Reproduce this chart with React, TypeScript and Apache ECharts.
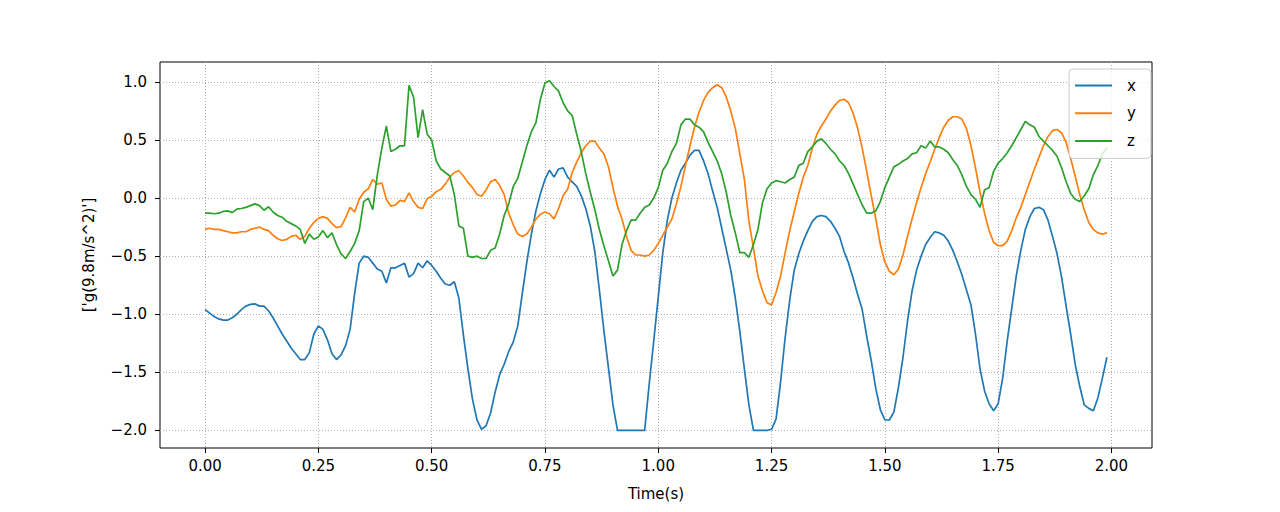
import React, { useEffect, useRef } from "react";
import * as echarts from "echarts";

// acceleration samples, one every 0.01 s, from 0.00 to 1.99 s
const X_VALUES = [
  -0.96, -0.99, -1.02, -1.04, -1.05, -1.05, -1.03, -1.0, -0.96, -0.93,
  -0.915, -0.91, -0.93, -0.93, -0.97, -1.03, -1.1, -1.17, -1.23, -1.29,
  -1.34, -1.39, -1.39, -1.33, -1.17, -1.1, -1.13, -1.22, -1.34, -1.39,
  -1.35, -1.27, -1.13, -0.82, -0.56, -0.5, -0.51, -0.56, -0.61, -0.63,
  -0.73, -0.6, -0.6, -0.58, -0.56, -0.68, -0.65, -0.56, -0.6, -0.54,
  -0.58, -0.63, -0.69, -0.74, -0.75, -0.72, -0.86, -1.18, -1.47, -1.73,
  -1.91, -1.99, -1.96, -1.85, -1.67, -1.52, -1.43, -1.32, -1.24, -1.1,
  -0.82, -0.55, -0.31, -0.11, 0.04, 0.16, 0.24, 0.18, 0.25, 0.26,
  0.18, 0.14, 0.1, 0.02, -0.09, -0.24, -0.46, -0.79, -1.14, -1.46,
  -1.78, -2.0, -2.0, -2.0, -2.0, -2.0, -2.0, -2.0, -1.6, -1.23,
  -0.85, -0.47, -0.19, 0.0, 0.13, 0.24, 0.3, 0.37, 0.41, 0.41,
  0.32, 0.21, 0.06, -0.08, -0.26, -0.44, -0.62, -0.86, -1.15, -1.47,
  -1.78, -2.0, -2.0, -2.0, -2.0, -1.99, -1.9, -1.58, -1.2, -0.88,
  -0.62, -0.48, -0.37, -0.28, -0.2, -0.16, -0.15, -0.16, -0.2, -0.26,
  -0.33, -0.46, -0.56, -0.69, -0.83, -0.96, -1.19, -1.4, -1.64, -1.82,
  -1.91, -1.91, -1.84, -1.63, -1.37, -1.06, -0.8, -0.62, -0.5, -0.4,
  -0.34, -0.29, -0.3, -0.32, -0.37, -0.45, -0.55, -0.66, -0.79, -0.92,
  -1.17, -1.47, -1.66, -1.77, -1.83, -1.77, -1.55, -1.23, -0.95, -0.67,
  -0.45, -0.27, -0.16, -0.09, -0.08, -0.1, -0.19, -0.33, -0.48, -0.68,
  -0.93, -1.17, -1.43, -1.62, -1.78, -1.81, -1.83, -1.72, -1.55, -1.37,
];

const Y_VALUES = [
  -0.27, -0.26, -0.27, -0.27, -0.28, -0.29, -0.3, -0.3, -0.29, -0.29,
  -0.27, -0.26, -0.25, -0.27, -0.28, -0.32, -0.35, -0.365, -0.355, -0.33,
  -0.32, -0.355, -0.33, -0.26, -0.21, -0.175, -0.16, -0.175, -0.22, -0.255,
  -0.245, -0.17, -0.08, -0.12, -0.01, 0.05, 0.08, 0.16, 0.12, 0.13,
  -0.01, -0.07, -0.06, -0.02, -0.03, 0.045, -0.03, -0.08, -0.09, -0.005,
  0.015, 0.055, 0.075, 0.12, 0.18, 0.22, 0.235, 0.19, 0.135, 0.09,
  0.03, 0.015, 0.07, 0.14, 0.16, 0.11, 0.03, -0.13, -0.23, -0.31,
  -0.33, -0.31, -0.25, -0.18, -0.14, -0.12, -0.135, -0.18, -0.09, 0.02,
  0.075, 0.22, 0.31, 0.39, 0.45, 0.49, 0.49, 0.43, 0.38, 0.27,
  0.09, -0.07, -0.18, -0.33, -0.45, -0.49, -0.49, -0.5, -0.49, -0.45,
  -0.39, -0.32, -0.25, -0.18, -0.05, 0.1, 0.28, 0.45, 0.61, 0.74,
  0.84, 0.91, 0.95, 0.975, 0.95, 0.87, 0.75, 0.6, 0.38, 0.16,
  -0.2, -0.43, -0.67, -0.8, -0.9, -0.92, -0.81, -0.67, -0.47, -0.28,
  -0.12, 0.04, 0.18, 0.28, 0.43, 0.55, 0.62, 0.68, 0.75, 0.8,
  0.84, 0.85, 0.82, 0.73, 0.6, 0.43, 0.23, 0.02, -0.18, -0.4,
  -0.55, -0.63, -0.66, -0.61, -0.49, -0.33, -0.18, -0.04, 0.09, 0.21,
  0.31, 0.42, 0.52, 0.61, 0.67, 0.7, 0.7, 0.68, 0.6, 0.45,
  0.26, 0.05, -0.13, -0.28, -0.38, -0.41, -0.41, -0.37, -0.28, -0.17,
  -0.08, 0.03, 0.14, 0.25, 0.35, 0.45, 0.53, 0.58, 0.59, 0.56,
  0.48, 0.34, 0.19, 0.03, -0.1, -0.21, -0.27, -0.3, -0.31, -0.3,
];

const Z_VALUES = [
  -0.13, -0.13, -0.135, -0.13, -0.115, -0.11, -0.125, -0.095, -0.09, -0.08,
  -0.065, -0.05, -0.065, -0.105, -0.075, -0.12, -0.15, -0.165, -0.2, -0.22,
  -0.24, -0.27, -0.39, -0.31, -0.355, -0.335, -0.28, -0.34, -0.3, -0.4,
  -0.48, -0.52, -0.46, -0.39, -0.28, -0.03, 0.0, -0.1, 0.2, 0.43,
  0.62, 0.4, 0.42, 0.45, 0.45, 0.97, 0.87, 0.52, 0.76, 0.55,
  0.5, 0.32, 0.25, 0.22, 0.19, 0.03, -0.24, -0.26, -0.5, -0.51,
  -0.5, -0.52, -0.52, -0.45, -0.43, -0.31, -0.15, -0.05, 0.1, 0.17,
  0.31, 0.45, 0.57, 0.65, 0.85, 0.99, 1.01, 0.96, 0.92, 0.82,
  0.75, 0.71, 0.55, 0.4, 0.21, 0.05, -0.1, -0.27, -0.41, -0.54,
  -0.67, -0.62, -0.4, -0.28, -0.19, -0.19, -0.13, -0.08, -0.06, 0.0,
  0.09, 0.24, 0.3, 0.4, 0.47, 0.63, 0.68, 0.68, 0.63, 0.61,
  0.57, 0.48, 0.4, 0.32, 0.21, 0.05, -0.15, -0.3, -0.47, -0.47,
  -0.51, -0.4, -0.27, -0.04, 0.08, 0.13, 0.15, 0.14, 0.13, 0.16,
  0.18, 0.28, 0.3, 0.4, 0.44, 0.49, 0.51, 0.47, 0.42, 0.38,
  0.32, 0.28, 0.21, 0.12, 0.03, -0.06, -0.13, -0.13, -0.11, -0.03,
  0.09, 0.18, 0.27, 0.29, 0.32, 0.34, 0.38, 0.39, 0.45, 0.43,
  0.49, 0.44, 0.44, 0.42, 0.39, 0.33, 0.28, 0.2, 0.1, 0.03,
  -0.01, -0.08, 0.07, 0.09, 0.23, 0.3, 0.34, 0.39, 0.45, 0.52,
  0.59, 0.66, 0.63, 0.61, 0.53, 0.49, 0.45, 0.41, 0.36, 0.26,
  0.14, 0.04, -0.01, -0.03, 0.02, 0.08, 0.2, 0.28, 0.38, 0.43,
];

const SERIES_NAMES = ["x", "y", "z"];
const X_TICKS = [0, 0.25, 0.5, 0.75, 1.0, 1.25, 1.5, 1.75, 2.0];
const Y_TICKS = [-2.0, -1.5, -1.0, -0.5, 0.0, 0.5, 1.0];
const TIMES = X_VALUES.map((_, i) => i / 100);

const FONT = "'DejaVu Sans', sans-serif";
const COLORS = ["#1f77b4", "#ff7f0e", "#2ca02c"];

const fmtY = (v: number) => (v < 0 ? "\u2212" + Math.abs(v).toFixed(1) : v.toFixed(1));

export default function App() {
  const ref = useRef<HTMLDivElement>(null);

  useEffect(() => {
    document.body.style.margin = "0";
    const chart = echarts.init(ref.current!, null, { renderer: "svg" });
    const all = [X_VALUES, Y_VALUES, Z_VALUES];
    chart.setOption({
      animation: false,
      backgroundColor: "#ffffff",
      textStyle: { fontFamily: FONT },
      grid: {
        left: 160,
        right: 128,
        top: 62,
        bottom: 64,
        show: true,
        borderColor: "#000000",
        borderWidth: 1,
        backgroundColor: "transparent",
      },
      xAxis: {
        type: "value",
        min: -0.0995,
        max: 2.0895,
        name: "Time(s)",
        nameLocation: "middle",
        nameGap: 38,
        nameTextStyle: { fontSize: 15, color: "#000", fontFamily: FONT },
        axisLine: { show: false, onZero: false },
        axisTick: {
          show: true,
          customValues: X_TICKS,
          length: 5,
          lineStyle: { color: "#000", width: 1 },
        },
        axisLabel: {
          customValues: X_TICKS,
          formatter: (v: number) => v.toFixed(2),
          margin: 10,
          fontSize: 15,
          color: "#000",
          fontFamily: FONT,
        },
        splitLine: {
          show: true,
          lineStyle: { color: "#b0b0b0", type: [1, 2], width: 1 },
        },
      },
      yAxis: {
        type: "value",
        min: -2.151,
        max: 1.171,
        name: "['g(9.8m/s^2)']",
        nameLocation: "middle",
        nameGap: 64,
        nameRotate: 90,
        nameTextStyle: { fontSize: 15, color: "#000", fontFamily: FONT },
        axisLine: { show: false, onZero: false },
        axisTick: {
          show: true,
          customValues: Y_TICKS,
          length: 5,
          lineStyle: { color: "#000", width: 1 },
        },
        axisLabel: {
          customValues: Y_TICKS,
          formatter: fmtY,
          margin: 13,
          fontSize: 15,
          color: "#000",
          fontFamily: FONT,
        },
        splitLine: {
          show: true,
          lineStyle: { color: "#b0b0b0", type: [1, 2], width: 1 },
        },
      },
      legend: {
        orient: "vertical",
        left: 1069,
        top: 69,
        icon: "path://M0,0H37V2H0Z",
        itemWidth: 37,
        itemHeight: 14,
        itemGap: 12.7,
        padding: [9, 15, 10, 6],
        backgroundColor: "rgba(255,255,255,0.8)",
        borderColor: "#cccccc",
        borderWidth: 1,
        borderRadius: 4,
        textStyle: { fontSize: 15, color: "#000", padding: [0, 0, 0, 10], fontFamily: FONT },
        data: SERIES_NAMES,
      },
      series: SERIES_NAMES.map((name, k) => ({
        name,
        type: "line",
        symbol: "none",
        showSymbol: false,
        color: COLORS[k],
        lineStyle: { color: COLORS[k], width: 1.7 },
        data: TIMES.map((t, i) => [t, all[k][i]]),
      })),
    });
    return () => chart.dispose();
  }, []);

  return (
    <div
      ref={ref}
      style={{ position: "absolute", left: 0, top: 0, width: 1280, height: 512 }}
    />
  );
}
